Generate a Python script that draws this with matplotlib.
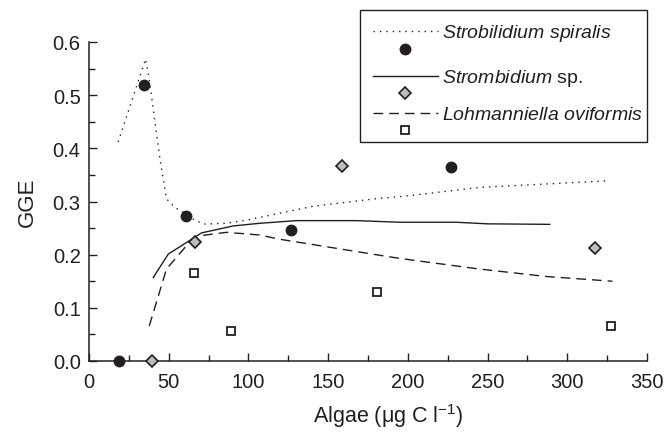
import matplotlib
matplotlib.use('Agg')
import matplotlib.pyplot as plt
from matplotlib.lines import Line2D
from matplotlib.patches import Rectangle
from matplotlib.ticker import MultipleLocator

plt.rcParams['font.family'] = 'Liberation Sans'
plt.rcParams['mathtext.fontset'] = 'custom'
plt.rcParams['mathtext.rm'] = 'Liberation Sans'
plt.rcParams['mathtext.it'] = 'Liberation Sans:italic'
ink = '#231f20'

# fitted curves
spir_line_x = [18.3, 35.5, 37.8, 44.5, 48.6, 53.8, 60, 65.3, 71.6, 86, 99, 107, 140.5, 182, 195, 245, 300, 326]
spir_line_y = [0.412, 0.568, 0.53, 0.38, 0.305, 0.289, 0.278, 0.267, 0.2575, 0.259, 0.265, 0.27, 0.291, 0.306, 0.309, 0.3265, 0.335, 0.339]
stromb_line_x = [40.3, 49.7, 70.6, 90.4, 107, 130, 167.6, 195, 230, 250, 289]
stromb_line_y = [0.157, 0.201, 0.241, 0.254, 0.259, 0.264, 0.264, 0.261, 0.261, 0.258, 0.257]
lohm_line_x = [37.8, 48.6, 61.2, 70.6, 86.2, 107, 119.6, 150.9, 182, 194.7, 244.8, 286.6, 328.3]
lohm_line_y = [0.066, 0.173, 0.217, 0.236, 0.242, 0.237, 0.229, 0.214, 0.199, 0.193, 0.173, 0.159, 0.150]

# measured points
spir_x = [18.7, 34.4, 60.8, 126.9, 227.1]
spir_y = [0.0, 0.52, 0.273, 0.247, 0.364]
stromb_x = [39.6, 66.7, 158.6, 317.3]
stromb_y = [0.0, 0.223, 0.366, 0.212]
lohm_x = [66, 88.9, 180.5, 327.7]
lohm_y = [0.166, 0.057, 0.129, 0.066]

species = [r'$\it{Strobilidium\ spiralis}$', r'$\it{Strombidium}$ sp.', r'$\it{Lohmanniella\ oviformis}$']

W, H = 665, 435
fig = plt.figure(figsize=(W/100, H/100), dpi=100)
ax = fig.add_axes([89/W, 1-362/H, (647-89)/W, (362-43)/H])

dots = (0, (1, 3.6))
dash = (0, (7, 4.3))
line_styles = [dict(color=ink, lw=1.0, linestyle=dots),
               dict(color=ink, lw=1.0),
               dict(color=ink, lw=1.0, linestyle=dash)]
mark_styles = [dict(marker='o', color=ink, ms=7.5, linestyle='none'),
               dict(marker='D', mfc='#bdbdbd', mec=ink, mew=1.2, ms=6, linestyle='none'),
               dict(marker='s', mfc='white', mec=ink, mew=1.3, ms=6, linestyle='none')]

ax.plot(spir_line_x, spir_line_y, **line_styles[0])
ax.plot(stromb_line_x, stromb_line_y, **line_styles[1])
ax.plot(lohm_line_x, lohm_line_y, **line_styles[2])
ax.plot(spir_x, spir_y, clip_on=False, zorder=5, **mark_styles[0])
ax.plot(stromb_x, stromb_y, clip_on=False, zorder=5, **mark_styles[1])
ax.plot(lohm_x, lohm_y, clip_on=False, zorder=5, **mark_styles[2])

ax.set_xlim(0, 350)
ax.set_ylim(0, 0.6)
ax.xaxis.set_major_locator(MultipleLocator(50))
ax.xaxis.set_minor_locator(MultipleLocator(25))
ax.yaxis.set_major_locator(MultipleLocator(0.1))
ax.yaxis.set_minor_locator(MultipleLocator(0.05))
ax.yaxis.set_major_formatter(plt.FormatStrFormatter('%.1f'))
ax.tick_params(which='both', direction='in', color=ink, width=1.0, labelsize=14.5, labelcolor=ink)
ax.tick_params(which='major', length=5.5)
ax.tick_params(which='minor', length=4.5)
ax.tick_params(axis='x', pad=8)
ax.tick_params(axis='y', pad=6)
for s in ['top', 'right']:
    ax.spines[s].set_visible(False)
for s in ['left', 'bottom']:
    ax.spines[s].set_color(ink)
    ax.spines[s].set_linewidth(1.1)

ax.set_ylabel('GGE', fontsize=16, color=ink, labelpad=11)
ax.set_xlabel('Algae (μg C l$^{-1}$)', fontsize=15.5, color=ink, labelpad=7, x=0.537)

# legend box drawn by hand in pixel positions
fx = lambda px: px / W
fy = lambda py: 1 - py / H
fig.add_artist(Rectangle((fx(360), fy(143)), fx(647) - fx(360), fy(11) - fy(143),
                         transform=fig.transFigure, fill=False, ec=ink, lw=1.0))
row_line = [32, 77, 114]
row_mark = [50, 94, 131]
for i in range(3):
    fig.add_artist(Line2D([fx(373), fx(438)], [fy(row_line[i])] * 2,
                          transform=fig.transFigure, **line_styles[i]))
    fig.add_artist(Line2D([fx(405)], [fy(row_mark[i])],
                          transform=fig.transFigure, **mark_styles[i]))
    fig.text(fx(442), fy(row_line[i] + 6), species[i], fontsize=14, color=ink,
             ha='left', va='baseline')

fig.savefig('out.png', dpi=100)
